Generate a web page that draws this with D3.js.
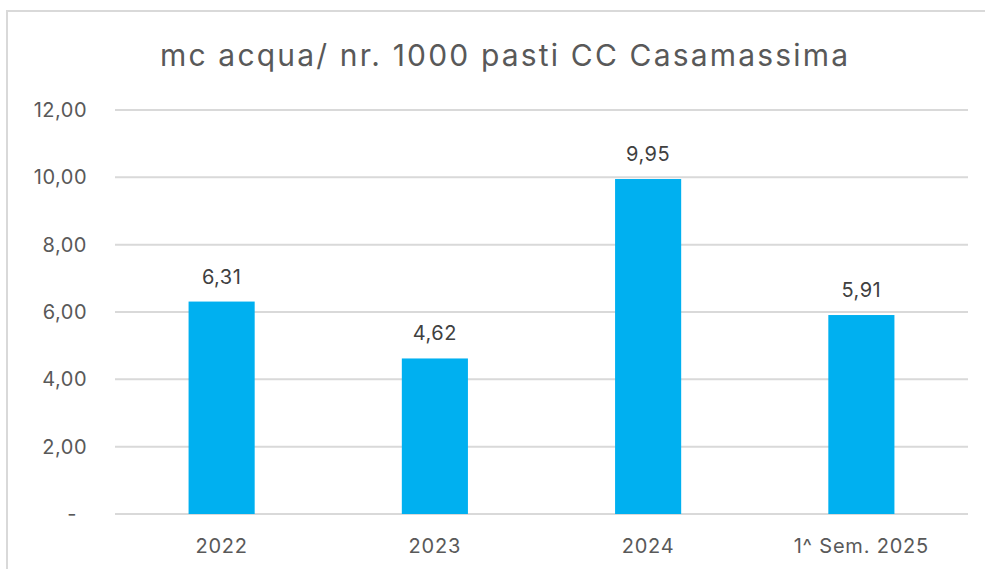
<!DOCTYPE html>
<html>
<head>
<meta charset="utf-8">
<script src="https://cdn.jsdelivr.net/npm/d3@7"></script>
<style>
  html, body { margin: 0; padding: 0; background: #fff; }
  svg { display: block; font-family: Inter, "Liberation Sans", Arial, sans-serif; }
</style>
</head>
<body>
<svg id="chart" width="985" height="569"></svg>
<script>
// chart data
const categories = ["2022", "2023", "2024", "1^ Sem. 2025"];
const values = [6.31, 4.62, 9.95, 5.91];
const yTicks = [0, 2, 4, 6, 8, 10, 12];
const chartTitle = "mc acqua/ nr. 1000 pasti CC Casamassima";

const width = 985, height = 569;
const margin = { top: 110, right: 17, bottom: 55, left: 115 };

const svg = d3.select("#chart");

// chart frame
svg.append("rect")
    .attr("x", 7).attr("y", 11)
    .attr("width", width + 10).attr("height", height + 10)
    .attr("fill", "#fff")
    .attr("stroke", "#d9d9d9")
    .attr("stroke-width", 2);

const x = d3.scaleBand()
    .domain(categories)
    .range([margin.left, width - margin.right])
    .paddingInner(0.69)
    .paddingOuter(0.345);

const y = d3.scaleLinear()
    .domain([0, 12])
    .range([height - margin.bottom, margin.top]);

const fmt = v => v === 0 ? "-" : d3.format(".2f")(v).replace(".", ",");

// gridlines
svg.append("g")
    .selectAll("line")
    .data(yTicks)
    .enter().append("line")
    .attr("x1", margin.left)
    .attr("x2", width - margin.right)
    .attr("y1", d => y(d))
    .attr("y2", d => y(d))
    .attr("stroke", "#d9d9d9")
    .attr("stroke-width", 2);

// y labels
svg.append("g")
    .selectAll("text")
    .data(yTicks)
    .enter().append("text")
    .attr("x", d => d === 0 ? 77 : 87)
    .attr("y", d => y(d))
    .attr("dy", "0.35em")
    .attr("text-anchor", "end")
    .attr("font-size", 20)
    .attr("letter-spacing", 0.5)
    .attr("fill", "#595959")
    .text(fmt);

// bars
svg.append("g")
    .selectAll("rect")
    .data(values)
    .enter().append("rect")
    .attr("x", (d, i) => x(categories[i]))
    .attr("y", d => y(d))
    .attr("width", x.bandwidth())
    .attr("height", d => y(0) - y(d))
    .attr("fill", "#00b0f0");

// value labels
svg.append("g")
    .selectAll("text")
    .data(values)
    .enter().append("text")
    .attr("x", (d, i) => x(categories[i]) + x.bandwidth() / 2)
    .attr("y", d => y(d) - 18)
    .attr("text-anchor", "middle")
    .attr("font-size", 20)
    .attr("letter-spacing", 0.5)
    .attr("fill", "#404040")
    .text(fmt);

// x labels
svg.append("g")
    .selectAll("text")
    .data(categories)
    .enter().append("text")
    .attr("x", d => x(d) + x.bandwidth() / 2)
    .attr("y", 553)
    .attr("text-anchor", "middle")
    .attr("font-size", 20)
    .attr("letter-spacing", 0.8)
    .attr("fill", "#595959")
    .text(d => d);

// title
svg.append("text")
    .attr("x", 504)
    .attr("y", 66)
    .attr("text-anchor", "middle")
    .attr("font-size", 30)
    .attr("textLength", 688)
    .attr("lengthAdjust", "spacing")
    .attr("fill", "#595959")
    .text(chartTitle);
</script>
</body>
</html>
